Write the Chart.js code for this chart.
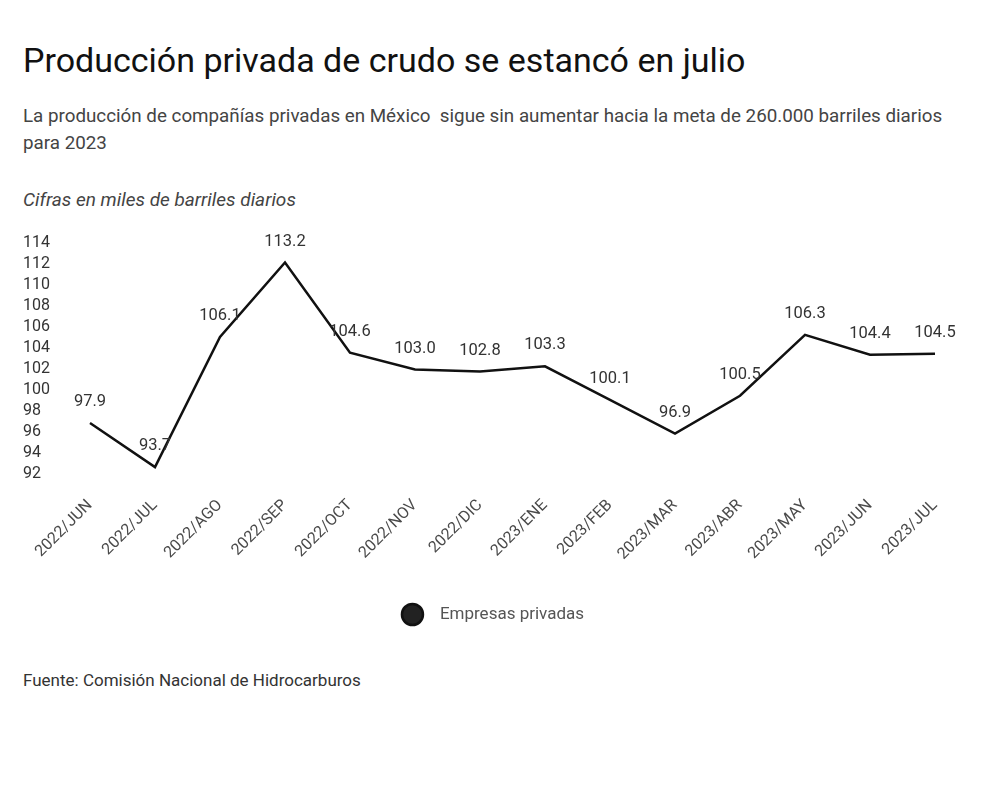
<!DOCTYPE html>
<html>
<head>
<meta charset="utf-8">
<script src="https://cdn.jsdelivr.net/npm/chart.js@4.4.0/dist/chart.umd.min.js"></script>
<style>
  body { margin: 0; background: #fff; font-family: Roboto, sans-serif; }
  .wrap { position: relative; width: 1000px; height: 807px; }
  h1 { position: absolute; left: 23px; top: 38px; margin: 0; font-size: 34px; line-height: 44px; font-weight: 400; color: #111; }
  .sub { position: absolute; left: 23px; top: 103px; width: 950px; margin: 0; font-size: 18.8px; line-height: 27px; color: #444; }
  .nota { position: absolute; left: 23px; top: 188px; margin: 0; font-size: 19px; font-style: italic; color: #444; }
  .fuente { position: absolute; left: 23px; top: 670px; margin: 0; font-size: 17px; color: #333; }
  #grafico { position: absolute; left: 0; top: 225px; }
</style>
</head>
<body>
<div class="wrap">
  <h1>Producción privada de crudo se estancó en julio</h1>
  <p class="sub">La producción de compañías privadas en México&nbsp; sigue sin aumentar hacia la meta de 260.000 barriles diarios para 2023</p>
  <p class="nota">Cifras en miles de barriles diarios</p>
  <div id="grafico" style="width:1000px;height:420px"><canvas id="grafico-crudo"></canvas></div>
  <p class="fuente">Fuente: Comisión Nacional de Hidrocarburos</p>
</div>
<script>
// meses del periodo
const meses = ['2022/JUN', '2022/JUL', '2022/AGO', '2022/SEP', '2022/OCT', '2022/NOV', '2022/DIC',
  '2023/ENE', '2023/FEB', '2023/MAR', '2023/ABR', '2023/MAY', '2023/JUN', '2023/JUL'];
// miles de barriles diarios
const empresasPrivadas = [97.9, 93.7, 106.1, 113.2, 104.6, 103.0, 102.8, 103.3, 100.1, 96.9, 100.5, 106.3, 104.4, 104.5];
const ticksY = [92, 94, 96, 98, 100, 102, 104, 106, 108, 110, 112, 114];

// etiquetas de valor encima de cada punto
const etiquetasValor = {
  id: 'etiquetasValor',
  afterDatasetsDraw(chart) {
    const ctx = chart.ctx;
    const meta = chart.getDatasetMeta(0);
    ctx.save();
    ctx.font = '16.5px Roboto';
    ctx.fillStyle = '#333';
    ctx.textAlign = 'center';
    ctx.textBaseline = 'middle';
    meta.data.forEach((pt, i) => {
      ctx.fillText(empresasPrivadas[i].toFixed(1), pt.x, pt.y - 21);
    });
    ctx.restore();
  }
};

// la leyenda va un poco a la derecha del centro
const moverLeyenda = {
  id: 'moverLeyenda',
  afterLayout(chart) {
    chart.legend.left += 14;
    chart.legend.right += 14;
  }
};

const ctx = document.getElementById('grafico-crudo');
new Chart(ctx, {
  type: 'line',
  data: {
    labels: meses,
    datasets: [{
      label: 'Empresas privadas',
      data: empresasPrivadas,
      borderColor: '#111',
      backgroundColor: '#222',
      borderWidth: 2.5,
      pointRadius: 0,
      pointHoverRadius: 0,
      tension: 0
    }]
  },
  options: {
    responsive: true,
    maintainAspectRatio: false,
    animation: false,
    layout: { padding: { left: 23, right: 65, top: 29, bottom: 12 } },
    scales: {
      x: {
        offset: false,
        grid: { display: false },
        border: { display: false },
        ticks: {
          autoSkip: false,
          minRotation: 45,
          maxRotation: 45,
          color: '#4a4a4a',
          font: { family: 'Roboto', size: 16 }
        },
        afterFit(scale) { scale.height = 111; }
      },
      y: {
        min: 92,
        max: 114,
        afterBuildTicks(scale) { scale.ticks = ticksY.map(v => ({ value: v })); },
        grid: { display: false },
        border: { display: false },
        ticks: {
          autoSkip: false,
          crossAlign: 'far',
          labelOffset: -11,
          color: '#333',
          font: { family: 'Roboto', size: 16 }
        },
        afterFit(scale) { scale.width = 67; }
      }
    },
    plugins: {
      legend: {
        position: 'bottom',
        labels: {
          usePointStyle: true,
          pointStyle: 'circle',
          boxHeight: 15,
          pointStyleWidth: 21,
          color: '#555',
          font: { family: 'Roboto', size: 17 },
          generateLabels(chart) {
            const items = Chart.defaults.plugins.legend.labels.generateLabels(chart);
            items.forEach(it => { it.text = '  ' + it.text; });
            return items;
          }
        }
      },
      tooltip: { enabled: false }
    }
  },
  plugins: [etiquetasValor, moverLeyenda]
});
</script>
</body>
</html>
